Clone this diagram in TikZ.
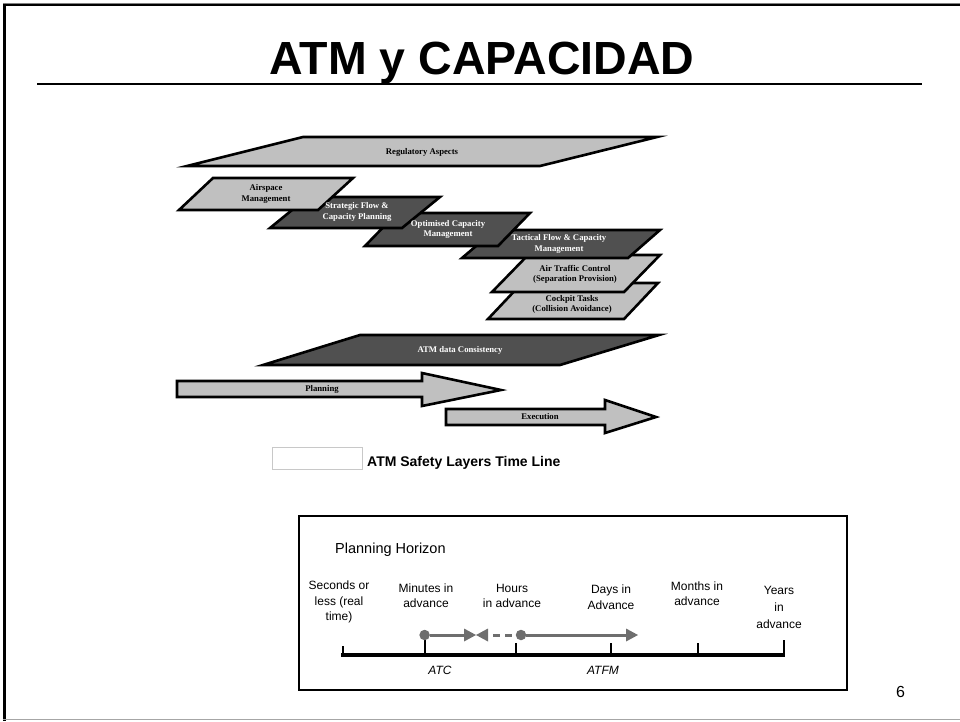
\documentclass[tikz,border=0pt]{standalone}
\usepackage{fontspec}
\setmainfont{Liberation Serif}
\setsansfont{Liberation Sans}
\definecolor{lightfill}{RGB}{192,192,192}
\definecolor{darkfill}{RGB}{80,80,80}
\definecolor{markgray}{RGB}{110,110,110}
\definecolor{legendgray}{RGB}{200,200,200}
\tikzset{
  layer/.style={draw=black, line width=2.6pt, line join=miter},
  lightlayer/.style={layer, fill=lightfill},
  darklayer/.style={layer, fill=darkfill},
  layertext/.style={font=\fontsize{8.7}{10.2}\selectfont\bfseries, align=center, inner sep=0pt},
  darktext/.style={layertext, text=white},
  hlabel/.style={font=\sffamily\fontsize{12}{15.5}\selectfont, align=center, inner sep=0pt, anchor=north},
  dotmark/.style={circle, fill=markgray, inner sep=0pt, minimum size=10.5pt},
  markline/.style={draw=markgray, line width=3pt},
  markhead/.style={fill=markgray},
}
\begin{document}
\begin{tikzpicture}[x=1pt,y=-1pt]
\useasboundingbox (0,0) rectangle (960,721);
% frame
\draw[gray, line width=1pt] (3,3) -- (960,3);
\draw[black, line width=2pt] (3,5) -- (960,5);
\draw[black, line width=3pt] (4.5,3.5) -- (4.5,721);
\draw[gray!70, line width=1.5pt] (3,719.5) -- (960,719.5);
% title
\node[anchor=base, inner sep=0pt, font=\sffamily\bfseries\fontsize{46.5}{50}\selectfont] (title) at (482,74.5) {ATM y CAPACIDAD};
\draw[line width=2.5pt] (37,84) -- (922,84);

% layers (back to front)
\draw[lightlayer] (303,137) -- (657,137) -- (540,166) -- (187,166) -- cycle;
\draw[lightlayer] (522,283) -- (658,283) -- (624,319) -- (488,319) -- cycle;
\draw[lightlayer] (528,255) -- (660,255) -- (624,292) -- (492,292) -- cycle;
\draw[darklayer] (495,230) -- (660,230) -- (628,258) -- (462,258) -- cycle;
\draw[darklayer] (397,213) -- (530,213) -- (498,246) -- (365,246) -- cycle;
\draw[darklayer] (308,197) -- (440,197) -- (402,228) -- (270,228) -- cycle;
\draw[lightlayer] (213,178) -- (353,178) -- (318,210) -- (179,210) -- cycle;
\draw[darklayer] (360,335) -- (659,335) -- (560,365) -- (263,365) -- cycle;

% layer texts
\node[layertext] (reg) at (422,152) {Regulatory Aspects};
\node[layertext] (cock) at (572,304.5) {Cockpit Tasks\\(Collision Avoidance)};
\node[layertext] (atc) at (575,274.5) {Air Traffic Control\\(Separation Provision)};
\node[darktext] (tact) at (559,244) {Tactical Flow \& Capacity\\Management};
\node[darktext] (opt) at (448,229.5) {Optimised Capacity\\Management};
\node[darktext] (strat) at (357,212) {Strategic Flow \&\\Capacity Planning};
\node[layertext] (air) at (266,194) {Airspace\\Management};
\node[darktext] (data) at (460,350) {ATM data Consistency};

% arrows
\draw[lightlayer] (177,381) -- (422,381) -- (422,373) -- (501,390) -- (422,406) -- (422,397) -- (177,397) -- cycle;
\node[layertext] (plan) at (322,389) {Planning};
\draw[lightlayer] (446,409) -- (605,409) -- (605,400) -- (656,417) -- (605,433) -- (605,425) -- (446,425) -- cycle;
\node[layertext] (exec) at (540,417) {Execution};

% legend
\draw[legendgray, line width=1pt] (272,447) rectangle (362,469);
\node[anchor=base west, inner sep=0pt, font=\sffamily\bfseries\fontsize{14}{16}\selectfont] (leg) at (367,466) {ATM Safety Layers Time Line};

% planning horizon box
\draw[black, line width=2pt] (299,516) rectangle (847,690);
\node[anchor=base west, inner sep=0pt, font=\sffamily\fontsize{14.5}{17}\selectfont] (ph) at (335,553) {Planning Horizon};

\node[hlabel] (l1) at (339,578.5) {\strut Seconds or\\less (real\\time)};
\node[hlabel] (l2) at (426,581) {\strut Minutes in\\advance};
\node[hlabel] (l3) at (512,581) {\strut Hours\\in advance};
\node[hlabel] (l4) at (611,582.5) {\strut Days in\\Advance};
\node[hlabel] (l5) at (697,579) {\strut Months in\\advance};
\node[hlabel, font=\sffamily\fontsize{12}{17}\selectfont] (l6) at (779,582) {\strut Years\\in\\advance};

% timeline
\coordinate (t0) at (341,655);
\coordinate (t6) at (785,655);
\draw[line width=4pt] (t0) -- (t6);
\draw[line width=2pt] (342.5,646) -- (342.5,656);
\draw[line width=2pt] (424.6,640) -- (424.6,656);
\draw[line width=2pt] (516,643) -- (516,656);
\draw[line width=2pt] (611,643) -- (611,656);
\draw[line width=2pt] (698,643) -- (698,656);
\draw[line width=2pt] (784,640) -- (784,656);

% markers
\node[dotmark] (c1) at (424.6,635) {};
\node[dotmark] (c2) at (521,635) {};
\coordinate (h1) at (465,635);
\coordinate (h2) at (627,635);
\draw[markline] (c1) -- (h1);
\fill[markhead] (464,628.5) -- (476,635) -- (464,641.5) -- cycle;
\fill[markhead] (488,628.5) -- (476,635) -- (488,641.5) -- cycle;
\draw[markline, dash pattern=on 7pt off 5pt] (493,635) -- (514,635);
\draw[markline] (c2) -- (h2);
\fill[markhead] (626,628.5) -- (638,635) -- (626,641.5) -- cycle;

\node[anchor=base, inner sep=0pt, font=\sffamily\itshape\fontsize{12}{14}\selectfont] (atclab) at (440,674) {ATC};
\node[anchor=base, inner sep=0pt, font=\sffamily\itshape\fontsize{12}{14}\selectfont] (atfmlab) at (603,674) {ATFM};

\node[anchor=base, inner sep=0pt, font=\sffamily\fontsize{16}{18}\selectfont] (pg) at (900.5,697) {6};
\end{tikzpicture}
\end{document}
